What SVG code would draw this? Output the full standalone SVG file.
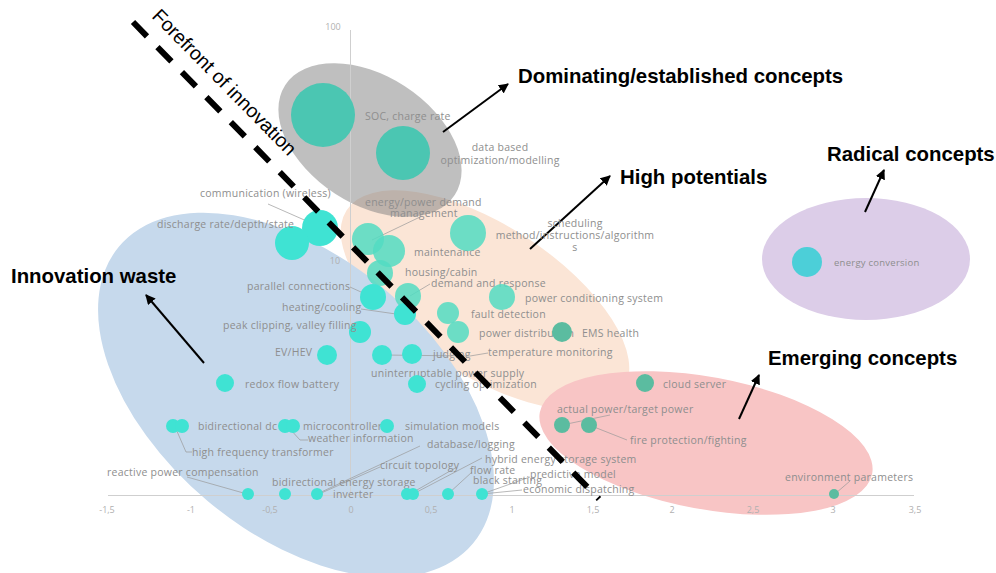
<svg xmlns="http://www.w3.org/2000/svg" width="996" height="573" viewBox="0 0 996 573">
<defs>
<marker id="ah" viewBox="0 0 10 10" refX="9" refY="5" markerWidth="5" markerHeight="5" orient="auto-start-reverse" markerUnits="strokeWidth"><path d="M0,0 L10,5 L0,10 z" fill="#000"/></marker>
</defs>
<style>
.lbl{font-family:"Open Sans","Liberation Sans",sans-serif;font-size:10.5px;letter-spacing:0.25px;fill:#8e8e8e}
.tick{font-family:"Open Sans","Liberation Sans",sans-serif;font-size:9px;fill:#b0b0b0;text-anchor:middle}
.big{font-family:"Liberation Sans",Arial,sans-serif;font-size:20.4px;font-weight:bold;fill:#000}
.c1{fill:#3fe3d3}
.c2{fill:#4bc6b2}
.c3{fill:#52dcc2;opacity:0.85}
.c4{fill:#5bbca0}
.c5{fill:#4ccfd8}
.lead{stroke:#9a9a9a;stroke-width:0.7;fill:none}
.arr{stroke:#000;stroke-width:2;fill:none;marker-end:url(#ah)}
</style>
<rect width="996" height="573" fill="#fff"/>
<!-- regions -->
<g id="regions">
<ellipse cx="485" cy="300" rx="165" ry="75" transform="rotate(33 485 300)" fill="#fbe5d6"/>
<ellipse cx="296" cy="395" rx="231" ry="138" transform="rotate(40 296 395)" fill="#c6d9ec"/>
<ellipse cx="370" cy="140" rx="101" ry="64" transform="rotate(33 370 140)" fill="#808080" opacity="0.5"/>
<ellipse cx="706" cy="443" rx="169" ry="66" transform="rotate(10.5 706 443)" fill="#f8c5c5"/>
<ellipse cx="866" cy="259" rx="104" ry="61" fill="#dccde8"/>
</g>
<!-- axes -->
<g id="axes">
<line x1="108" y1="495.5" x2="914" y2="495.5" stroke="#cfcfcf" stroke-width="1"/>
<line x1="350.5" y1="30" x2="350.5" y2="495" stroke="#cfcfcf" stroke-width="1"/>
<text class="tick" x="107" y="513">-1,5</text>
<text class="tick" x="191" y="513">-1</text>
<text class="tick" x="270" y="513">-0,5</text>
<text class="tick" x="351" y="513">0</text>
<text class="tick" x="431" y="513">0,5</text>
<text class="tick" x="512" y="513">1</text>
<text class="tick" x="593" y="513">1,5</text>
<text class="tick" x="672" y="513">2</text>
<text class="tick" x="753" y="513">2,5</text>
<text class="tick" x="833" y="513">3</text>
<text class="tick" x="915" y="513">3,5</text>
<text class="tick" x="333" y="30">100</text>
<text class="tick" x="335" y="264">10</text>
</g>
<!-- connectors -->
<g id="connectors">
<line class="arr" x1="443" y1="132" x2="508" y2="84"/>
<line class="arr" x1="530" y1="249" x2="610" y2="176"/>
<line class="arr" x1="865" y1="212" x2="884" y2="170"/>
<line class="arr" x1="204" y1="363" x2="146" y2="295"/>
<line class="arr" x1="739" y1="419" x2="759" y2="375"/>
<polyline class="lead" points="268,204 318,226"/>
<polyline class="lead" points="420,217 372,240"/>
<polyline class="lead" points="350,287 372,297"/>
<polyline class="lead" points="361,309 403,315"/>
<polyline class="lead" points="430,284 410,296"/>
<polyline class="lead" points="383,355 470,356 488,353"/>
<polyline class="lead" points="176,429 186,452 192,452"/>
<polyline class="lead" points="290,429 300,440 308,440"/>
<polyline class="lead" points="187,477 247,494"/>
<polyline class="lead" points="317,494 420,446"/>
<polyline class="lead" points="319,494 380,467"/>
<polyline class="lead" points="410,494 457,467"/>
<polyline class="lead" points="413,494 482,458"/>
<polyline class="lead" points="448,494 472,472"/>
<polyline class="lead" points="482,494 530,477"/>
<polyline class="lead" points="482,494 522,490"/>
<polyline class="lead" points="562,425 610,415"/>
<polyline class="lead" points="589,425 627,440"/>
<polyline class="lead" points="836,493 850,481"/>
</g>
<!-- nodes -->
<g id="n-soc"><circle class="c2" cx="323" cy="115" r="32"/><text class="lbl" x="365" y="120">SOC, charge rate</text></g>
<g id="n-data"><circle class="c2" cx="403" cy="153" r="27"/><text class="lbl" x="500" y="151" text-anchor="middle">data based</text><text class="lbl" x="500" y="164" text-anchor="middle">optimization/modelling</text></g>
<g id="n-comm"><circle class="c1" cx="320" cy="228" r="18"/><text class="lbl" x="200" y="197">communication (wireless)</text></g>
<g id="n-discharge"><circle class="c1" cx="292" cy="243" r="17"/><text class="lbl" x="157" y="228">discharge rate/depth/state</text></g>
<g id="n-energy-demand"><circle class="c3" cx="368" cy="239" r="16"/><text class="lbl" x="365" y="206">energy/power demand</text><text class="lbl" x="390" y="217">management</text></g>
<g id="n-maintenance"><circle class="c3" cx="389" cy="251" r="16"/><text class="lbl" x="414" y="256">maintenance</text></g>
<g id="n-scheduling"><circle class="c3" cx="468" cy="233" r="18"/><text class="lbl" x="575" y="227" text-anchor="middle">scheduling</text><text class="lbl" x="575" y="239" text-anchor="middle">method/instructions/algorithm</text><text class="lbl" x="575" y="251" text-anchor="middle">s</text></g>
<g id="n-housing"><circle class="c3" cx="380" cy="273" r="13"/><text class="lbl" x="405" y="276">housing/cabin</text></g>
<g id="n-parallel"><circle class="c1" cx="373" cy="297" r="13"/><text class="lbl" x="247" y="290">parallel connections</text></g>
<g id="n-demand"><circle class="c3" cx="408" cy="296" r="13"/><text class="lbl" x="431" y="287">demand and response</text></g>
<g id="n-heating"><circle class="c1" cx="405" cy="314" r="11"/><text class="lbl" x="282" y="311">heating/cooling</text></g>
<g id="n-pcs"><circle class="c3" cx="502" cy="297" r="13"/><text class="lbl" x="525" y="302">power conditioning system</text></g>
<g id="n-fault"><circle class="c3" cx="448" cy="313" r="11"/><text class="lbl" x="471" y="318">fault detection</text></g>
<g id="n-pdist"><circle class="c3" cx="458" cy="332" r="11"/><text class="lbl" x="479" y="337">power distribution</text></g>
<g id="n-ems"><circle class="c4" cx="562" cy="332" r="10"/><text class="lbl" x="582" y="337">EMS health</text></g>
<g id="n-peak"><circle class="c1" cx="360" cy="332" r="11"/><text class="lbl" x="223" y="329">peak clipping, valley filling</text></g>
<g id="n-ev"><circle class="c1" cx="327" cy="355" r="10"/><text class="lbl" x="275" y="356">EV/HEV</text></g>
<g id="n-judging"><circle class="c1" cx="382" cy="355" r="10"/><text class="lbl" x="433" y="358">judging</text></g>
<g id="n-temp"><text class="lbl" x="488" y="356">temperature monitoring</text></g>
<g id="n-ups"><circle class="c1" cx="412" cy="354" r="10"/><text class="lbl" x="371" y="377">uninterruptable power supply</text></g>
<g id="n-cycling"><circle class="c1" cx="417" cy="384" r="9"/><text class="lbl" x="435" y="388">cycling optimization</text></g>
<g id="n-redox"><circle class="c1" cx="225" cy="383" r="9"/><text class="lbl" x="245" y="388">redox flow battery</text></g>
<g id="n-bidc"><circle class="c1" cx="173" cy="426" r="7"/><circle class="c1" cx="182" cy="426" r="7"/><text class="lbl" x="198" y="430">bidirectional dc</text></g>
<g id="n-hft"><text class="lbl" x="192" y="456">high frequency transformer</text></g>
<g id="n-micro"><circle class="c1" cx="285" cy="426" r="7"/><circle class="c1" cx="293" cy="426" r="7"/><text class="lbl" x="303" y="430">microcontroller</text></g>
<g id="n-weather"><text class="lbl" x="308" y="442">weather information</text></g>
<g id="n-sim"><circle class="c1" cx="387" cy="426" r="7"/><text class="lbl" x="405" y="430">simulation models</text></g>
<g id="n-db"><text class="lbl" x="427" y="448">database/logging</text></g>
<g id="n-reactive"><circle class="c1" cx="248" cy="494" r="6"/><text class="lbl" x="107" y="476">reactive power compensation</text></g>
<g id="n-circuit"><circle class="c1" cx="285" cy="494" r="6"/><text class="lbl" x="380" y="469">circuit topology</text></g>
<g id="n-bies"><circle class="c1" cx="317" cy="494" r="6"/><text class="lbl" x="272" y="486">bidirectional energy storage</text></g>
<g id="n-inverter"><text class="lbl" x="333" y="498">inverter</text></g>
<g id="n-hybrid"><circle class="c1" cx="407" cy="494" r="6"/><circle class="c1" cx="413" cy="494" r="6"/><text class="lbl" x="485" y="463">hybrid energy storage system</text></g>
<g id="n-flow"><circle class="c1" cx="448" cy="494" r="6"/><text class="lbl" x="470" y="474">flow rate</text></g>
<g id="n-pred"><text class="lbl" x="530" y="478">predictive model</text></g>
<g id="n-black"><circle class="c1" cx="482" cy="494" r="6"/><text class="lbl" x="473" y="484">black starting</text></g>
<g id="n-econ"><text class="lbl" x="523" y="493">economic dispatching</text></g>
<g id="n-cloud"><circle class="c4" cx="645" cy="383" r="9"/><text class="lbl" x="663" y="388">cloud server</text></g>
<g id="n-actual"><circle class="c4" cx="562" cy="425" r="8"/><text class="lbl" x="557" y="413">actual power/target power</text></g>
<g id="n-fire"><circle class="c4" cx="589" cy="425" r="8"/><text class="lbl" x="630" y="444">fire protection/fighting</text></g>
<g id="n-env"><circle class="c4" cx="834" cy="494" r="5"/><text class="lbl" x="785" y="481">environment parameters</text></g>
<g id="n-econv"><circle class="c5" cx="807" cy="262" r="15"/><text class="lbl" x="834" y="266" style="font-size:9.5px">energy conversion</text></g>
<!-- forefront line -->
<g id="forefront">
<line x1="133" y1="22" x2="599" y2="499" stroke="#000" stroke-width="6" stroke-dasharray="20 15"/>
<text x="151" y="17" transform="rotate(45.5 151 17)" font-family="Liberation Sans, Arial, sans-serif" font-size="19.6" fill="#000">Forefront of innovation</text>
</g>
<!-- category labels -->
<g id="labels">
<text class="big" x="518" y="83">Dominating/established concepts</text>
<text class="big" x="620" y="184">High potentials</text>
<text class="big" x="827" y="161">Radical concepts</text>
<text class="big" x="11" y="283">Innovation waste</text>
<text class="big" x="768" y="365">Emerging concepts</text>
</g>
</svg>
